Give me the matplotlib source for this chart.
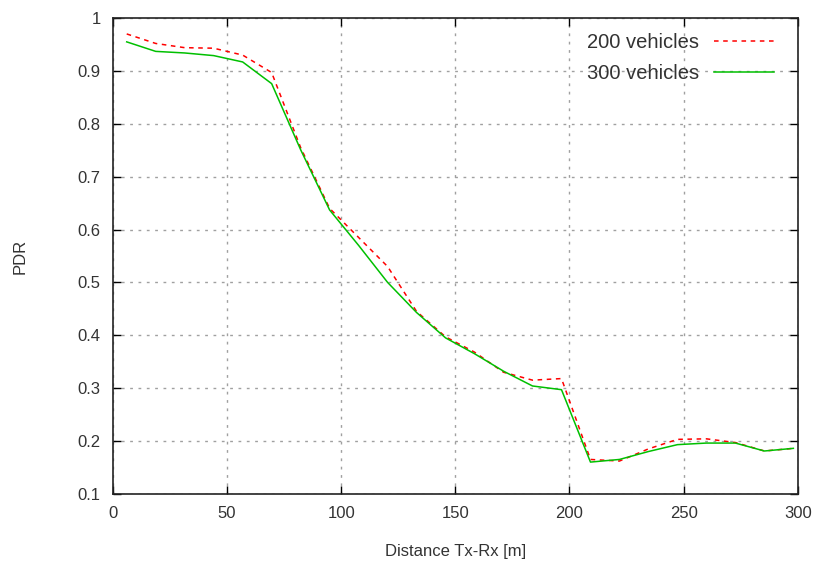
import matplotlib
matplotlib.use('Agg')
import matplotlib.pyplot as plt

# distance bins [m]
distance = [6.0, 18.7, 31.4, 44.1, 56.8, 69.5, 82.2, 94.9, 107.6, 120.3, 133.0, 145.7,
            158.4, 171.1, 183.8, 196.5, 209.2, 221.9, 234.6, 247.3, 260.0, 272.7, 285.4, 298.1]

pdr_200 = [0.970, 0.952, 0.944, 0.943, 0.930, 0.897, 0.755, 0.640, 0.585, 0.530, 0.445, 0.397,
           0.368, 0.330, 0.315, 0.318, 0.165, 0.162, 0.185, 0.203, 0.204, 0.197, 0.181, 0.186]
pdr_300 = [0.955, 0.937, 0.934, 0.929, 0.917, 0.876, 0.751, 0.637, 0.570, 0.500, 0.443, 0.395,
           0.365, 0.332, 0.304, 0.297, 0.160, 0.165, 0.180, 0.193, 0.196, 0.196, 0.181, 0.186]

xticks = [0, 50, 100, 150, 200, 250, 300]
yticks = [0.1, 0.2, 0.3, 0.4, 0.5, 0.6, 0.7, 0.8, 0.9, 1.0]
ytick_labels = ['0.1', '0.2', '0.3', '0.4', '0.5', '0.6', '0.7', '0.8', '0.9', '1']

plt.rcParams['font.family'] = ['Liberation Sans', 'DejaVu Sans']

fig = plt.figure(figsize=(8.19, 5.65), dpi=100)
ax = fig.add_axes([0.138, 0.126, 0.836, 0.842])

ax.plot(distance, pdr_200, color='#ff0000', linestyle=(0, (3, 3)), linewidth=1.1, label='200 vehicles')
ax.plot(distance, pdr_300, color='#00c000', linestyle='-', linewidth=1.1, label='300 vehicles')

ax.set_xlim(0, 300)
ax.set_ylim(0.1, 1.0)
ax.set_xticks(xticks)
ax.set_yticks(yticks)
ax.set_yticklabels(ytick_labels)
ax.tick_params(direction='in', top=True, right=True, length=6, width=1,
               labelsize=12, labelcolor='#333333', pad=9)
ax.grid(True, color='#a0a0a0', linestyle=(0, (2, 4)), linewidth=1)
for s in ax.spines.values():
    s.set_linewidth(1.2)
    s.set_color('#222222')

ax.set_xlabel('Distance Tx-Rx [m]', fontsize=12, color='#333333', labelpad=16)
ax.set_ylabel('PDR', fontsize=12, color='#333333', labelpad=36)

leg = ax.legend(loc='upper right', bbox_to_anchor=(0.966, 0.968), frameon=False,
                markerfirst=False, fontsize=14.5, handlelength=3.0, handletextpad=0.75,
                labelspacing=0.6, borderaxespad=0, borderpad=0)
for t in leg.get_texts():
    t.set_color('#333333')

fig.savefig('out.png', dpi=100)
